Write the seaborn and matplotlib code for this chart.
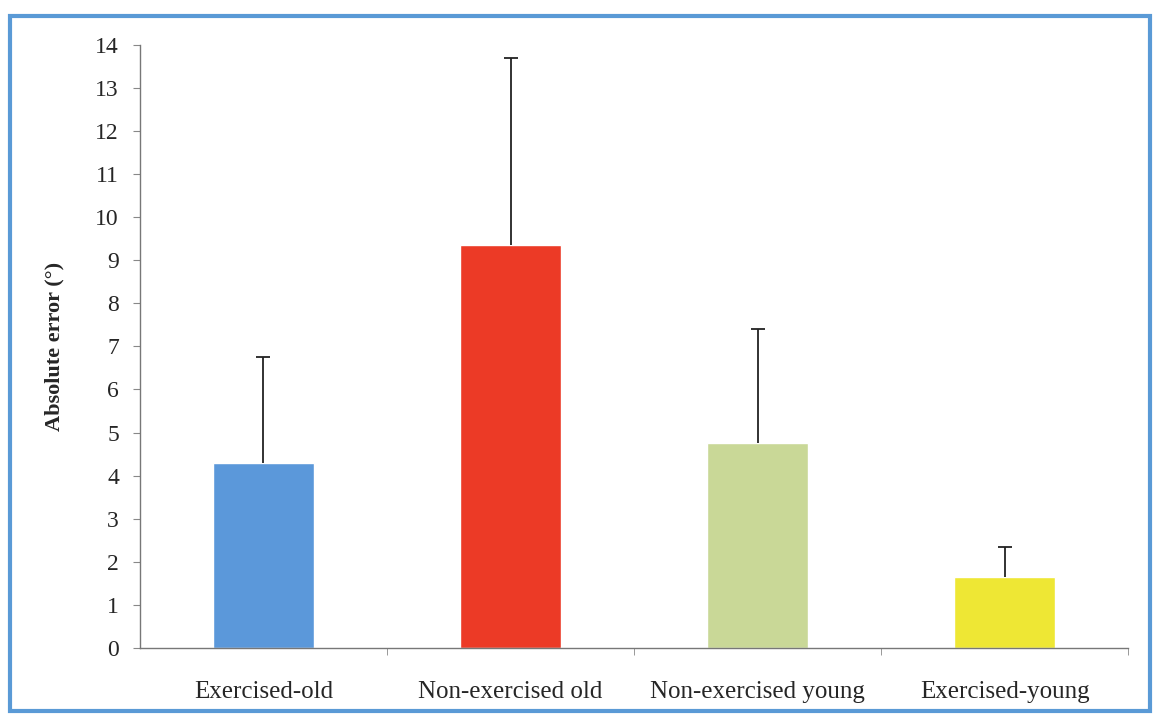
import pandas as pd
import seaborn as sns
import matplotlib.pyplot as plt
from matplotlib.patches import Rectangle
from matplotlib.ticker import FixedLocator

# Values
groups = ["Exercised-old", "Non-exercised old", "Non-exercised young", "Exercised-young"]
meanError = [4.3, 9.35, 4.75, 1.65]
sdError = [2.45, 4.35, 2.65, 0.7]
barColors = ["#5b98da", "#ec3a26", "#c9d897", "#eee734"]

dataFrame = pd.DataFrame({"group": groups, "error": meanError})

sns.set_style("white")
plt.rcParams["font.family"] = ["Liberation Serif", "DejaVu Serif"]

fig = plt.figure(figsize=(11.56, 7.15), dpi=100)
ax = fig.add_axes([0.121, 0.094, 0.855, 0.843])

sns.barplot(data=dataFrame, x="group", y="error", hue="group", palette=barColors,
            width=0.41, legend=False, ax=ax, saturation=1)

# upper-only error bars
_, capLines, _ = ax.errorbar(range(len(groups)), meanError, yerr=[[0] * len(groups), sdError],
                             fmt="none", ecolor="#222222", elinewidth=1.3, capsize=5, capthick=1.3)
capLines[0].set_visible(False)

ax.set_xlim(-0.5, 3.5)
ax.set_ylim(0, 14)
ax.set_yticks(range(0, 15))
ax.tick_params(axis="y", labelsize=17, length=5, width=0.8, color="#888888", pad=10, direction="out", left=True)
ax.tick_params(axis="x", labelsize=18, length=0, pad=24)
ax.xaxis.set_minor_locator(FixedLocator([0.5, 1.5, 2.5, 3.5]))
ax.tick_params(axis="x", which="minor", length=5, color="#888888", bottom=True)

for side in ["top", "right"]:
    ax.spines[side].set_visible(False)
for side in ["left", "bottom"]:
    ax.spines[side].set_color("#777777")
    ax.spines[side].set_linewidth(1.0)

ax.set_xlabel("")
ax.set_ylabel("Absolute error (°)", fontsize=16, fontweight="bold", labelpad=22)

# blue frame around the picture
fig.patches.append(Rectangle((0.009, 0.006), 0.986, 0.972, transform=fig.transFigure,
                             fill=False, edgecolor="#5a9ad6", linewidth=3))

plt.savefig("out.png", dpi=100)
plt.close()
